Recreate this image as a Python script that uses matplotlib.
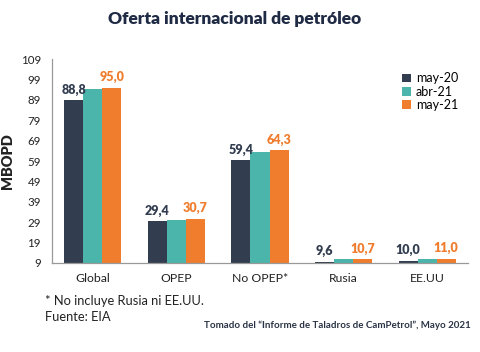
import matplotlib
matplotlib.use("Agg")
import matplotlib.pyplot as plt
import numpy as np

categories = ["Global", "OPEP", "No OPEP*", "Rusia", "EE.UU"]
series_names = ["may-20", "abr-21", "may-21"]
may20 = [88.8, 29.4, 59.4, 9.6, 10.0]
abr21 = [94.2, 30.1, 63.6, 10.7, 11.1]
may21 = [95.0, 30.7, 64.3, 10.7, 11.0]
yticks = [9, 19, 29, 39, 49, 59, 69, 79, 89, 99, 109]

colors = ["#323d50", "#4bb5ac", "#f07d2d"]
plt.rcParams['font.family'] = ['Lato', 'DejaVu Sans']

fig = plt.figure(figsize=(4.81, 3.52), dpi=100)
ax = fig.add_axes([0.108, 0.253, 0.865, 0.579])

x = np.arange(len(categories))
w = 0.228
base = 9
for i, (vals, c, name) in enumerate(zip([may20, abr21, may21], colors, series_names)):
    ax.bar(x + (i - 1) * w, np.array(vals) - base, w, bottom=base, color=c, label=name)

def fmt(v):
    return f"{v:.1f}".replace(".", ",")

for xi, v in zip(x, may20):
    ax.text(xi - w, v + 2.2, fmt(v), ha="center", va="bottom", fontsize=9,
            fontweight="heavy", color=colors[0])
for xi, v in zip(x, may21):
    ax.text(xi + w, v + 2.2, fmt(v), ha="center", va="bottom", fontsize=9,
            fontweight="heavy", color=colors[2])

ax.set_xlim(-0.49, 4.49)
ax.set_ylim(9, 109)
ax.set_yticks(yticks)
ax.set_yticklabels([str(t) for t in yticks], fontsize=8.3, color="#222222")
ax.set_xticks(x)
ax.set_xticklabels(categories, fontsize=8.8, color="#222222")
ax.tick_params(axis="x", length=0, pad=7)
ax.tick_params(axis="y", length=0, pad=8)
for s in ["top", "right"]:
    ax.spines[s].set_visible(False)
for s in ["left", "bottom"]:
    ax.spines[s].set_color("#999999")
    ax.spines[s].set_linewidth(0.9)

ax.set_ylabel("MBOPD", fontsize=10.5, fontweight="heavy", color="#222222", labelpad=5)

leg = ax.legend(loc="upper left", bbox_to_anchor=(0.83, 0.96), frameon=False,
                fontsize=9, handlelength=0.7, handleheight=0.7, handletextpad=0.4,
                labelspacing=0.1, borderaxespad=0)

fig.text(0.487, 0.945, "Oferta internacional de petróleo", ha="center", va="center",
         fontsize=12.5, fontweight="heavy", color="#1f2a44")
fig.text(0.094, 0.145, "* No incluye Rusia ni EE.UU.", ha="left", va="center",
         fontsize=9.3, color="#222222")
fig.text(0.094, 0.1, "Fuente: EIA", ha="left", va="center",
         fontsize=9.3, color="#222222")
fig.text(0.978, 0.075, "Tomado del \u201cInforme de Taladros de CamPetrol\u201d, Mayo 2021",
         ha="right", va="center", fontsize=7, fontweight="bold", color="#2a3345")

fig.savefig("out.png", dpi=100)
